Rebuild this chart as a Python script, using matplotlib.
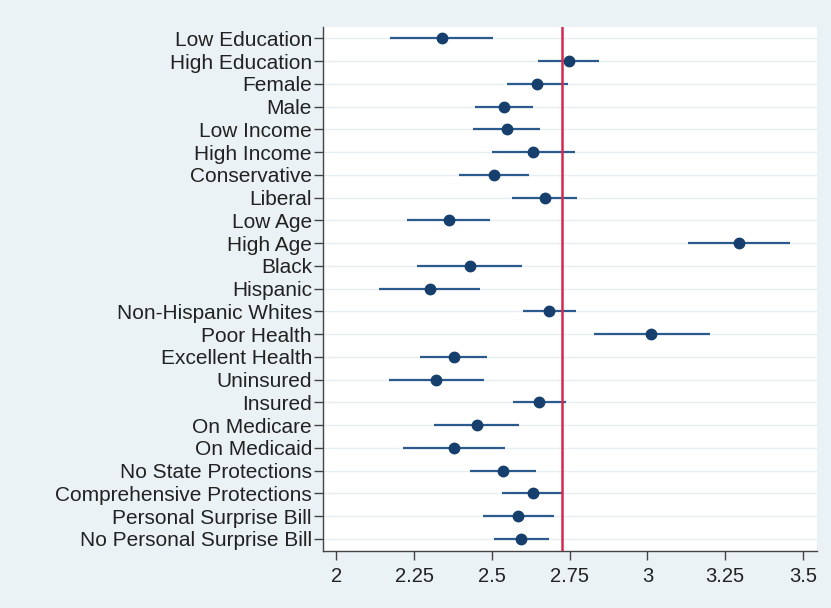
import matplotlib
matplotlib.use("Agg")
import matplotlib.pyplot as plt
import numpy as np

plt.rcParams['font.family'] = ['Liberation Sans', 'DejaVu Sans']

categories = ["Low Education", "High Education", "Female", "Male", "Low Income",
              "High Income", "Conservative", "Liberal", "Low Age", "High Age",
              "Black", "Hispanic", "Non-Hispanic Whites", "Poor Health",
              "Excellent Health", "Uninsured", "Insured", "On Medicare",
              "On Medicaid", "No State Protections", "Comprehensive Protections",
              "Personal Surprise Bill", "No Personal Surprise Bill"]
estimate = [2.339, 2.747, 2.645, 2.539, 2.548, 2.633, 2.507, 2.671, 2.363, 3.295,
            2.429, 2.300, 2.683, 3.013, 2.377, 2.320, 2.653, 2.451, 2.379, 2.535,
            2.631, 2.585, 2.595]
ci_low = [2.173, 2.647, 2.548, 2.445, 2.438, 2.500, 2.395, 2.566, 2.228, 3.132,
          2.260, 2.138, 2.599, 2.827, 2.270, 2.169, 2.569, 2.313, 2.215, 2.430,
          2.533, 2.472, 2.507]
ci_high = [2.503, 2.845, 2.745, 2.633, 2.655, 2.768, 2.620, 2.775, 2.495, 3.459,
           2.596, 2.462, 2.769, 3.201, 2.484, 2.474, 2.739, 2.588, 2.543, 2.642,
           2.730, 2.699, 2.684]
reference = 2.724
xticks = [2, 2.25, 2.5, 2.75, 3, 3.25, 3.5]
xticklabels = ["2", "2.25", "2.5", "2.75", "3", "3.25", "3.5"]

bg = "#eaf2f5"
fig = plt.figure(figsize=(8.31, 6.08), dpi=100, facecolor=bg)
ax = fig.add_axes([0.3887, 0.0938, 0.5943, 0.8618])
ax.set_facecolor("white")

y = np.arange(len(categories))
for yi in y:
    ax.axhline(yi, color="#e6eef2", lw=1.0, zorder=0)

ax.hlines(y, ci_low, ci_high, color="#2b5b8c", lw=1.6, zorder=2)
ax.plot(estimate, y, "o", color="#163f6d", ms=7.5, zorder=3)
ax.axvline(reference, color="#d42a4e", lw=1.8, zorder=4)

ax.set_xlim(1.957, 3.545)
ax.set_ylim(len(categories) - 0.47, -0.5)
ax.set_yticks(y)
ax.set_yticklabels(categories, fontsize=15, color="#222222")
ax.set_xticks(xticks)
ax.set_xticklabels(xticklabels, fontsize=14.5, color="#222222")

for s in ["top", "right"]:
    ax.spines[s].set_visible(False)
for s in ["left", "bottom"]:
    ax.spines[s].set_color("#444444")
    ax.spines[s].set_linewidth(1.0)
ax.tick_params(axis="y", length=6.5, width=1, color="#444444", pad=1.5)
ax.tick_params(axis="x", length=6.5, width=1, color="#444444", pad=5)

fig.savefig("out.png", dpi=100, facecolor=bg)
